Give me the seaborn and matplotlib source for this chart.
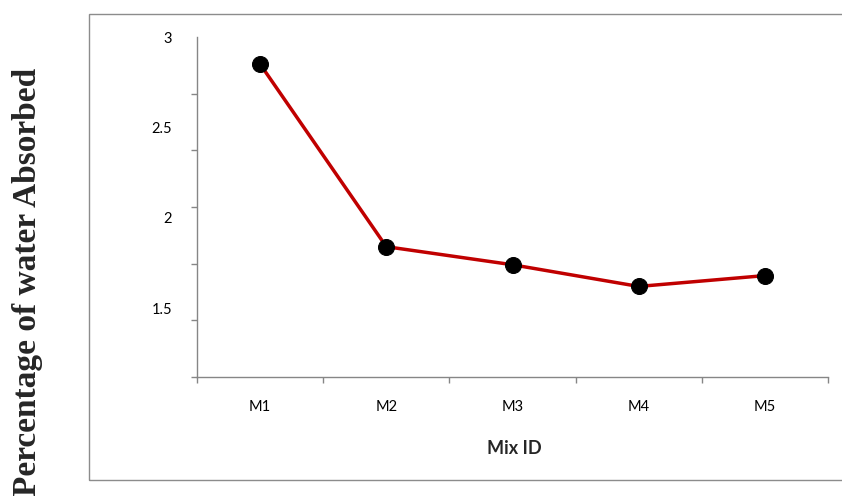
import numpy as np
import pandas as pd
import matplotlib
matplotlib.use("Agg")
import matplotlib.pyplot as plt
from matplotlib.patches import Rectangle
import seaborn as sns

# Water absorption per mix
mix_ids = ["M1", "M2", "M3", "M4", "M5"]
absorbed = [2.85, 1.84, 1.74, 1.62, 1.68]
y_tick_values = [3, 2.5, 2, 1.5]
y_tick_labels = ["3", "2.5", "2", "1.5"]

df = pd.DataFrame({"Mix ID": mix_ids, "Absorbed": absorbed})

sns.set_style("white")
plt.rcParams["font.family"] = ["Lato", "DejaVu Sans"]

W, H = 842, 496
fig = plt.figure(figsize=(W / 100, H / 100), dpi=100)
ax = fig.add_axes([197 / W, 1 - 377 / H, (828 - 197) / W, (377 - 37) / H])

sns.lineplot(data=df, x="Mix ID", y="Absorbed", ax=ax, color="#c00000",
             linewidth=2.5, marker="o", markersize=11.5,
             markerfacecolor="black", markeredgecolor="black", sort=False)

ymin, ymax = 1.119, 3.0
ax.set_xlim(-0.5, len(mix_ids) - 0.5)
ax.set_ylim(ymin, ymax)

axis_color = "#868686"
for side in ["top", "right"]:
    ax.spines[side].set_visible(False)
for side in ["left", "bottom"]:
    ax.spines[side].set_color(axis_color)
    ax.spines[side].set_linewidth(1.0)

# labelled ticks carry only text; short outward marks come from minor ticks
ax.set_yticks(y_tick_values)
ax.set_yticklabels(y_tick_labels)
ax.set_yticks(np.linspace(ymin, ymax, 7), minor=True)
ax.set_xticks(range(len(mix_ids)))
ax.set_xticklabels(mix_ids)
ax.set_xticks(np.arange(-0.5, len(mix_ids), 1.0), minor=True)

ax.tick_params(axis="both", which="major", length=0, labelsize=10.5,
               labelcolor="black")
ax.tick_params(axis="y", which="major", pad=18)
ax.tick_params(axis="x", which="major", pad=16.5)
ax.tick_params(axis="both", which="minor", length=4.5, width=1.0,
               color=axis_color, direction="out")
ax.tick_params(axis="x", which="minor", bottom=True)
ax.tick_params(axis="y", which="minor", left=True)

ax.set_xlabel("")
ax.set_ylabel("")
fig.text(514 / W, 1 - 449 / H, "Mix ID", ha="center", va="center",
         fontsize=13, fontweight="bold")
fig.text(28 / W, 1 - 282 / H, "Percentage of water Absorbed",
         rotation=90, ha="center", va="center", fontsize=24,
         fontweight="bold", family=["Liberation Serif", "DejaVu Serif"])

# outer chart frame
fig.patches.append(Rectangle((89 / W, 1 - 480 / H), 1.0, (480 - 14) / H,
                             transform=fig.transFigure, fill=False,
                             edgecolor="#8c8c8c", linewidth=1.0))

fig.savefig("out.png", dpi=100)
